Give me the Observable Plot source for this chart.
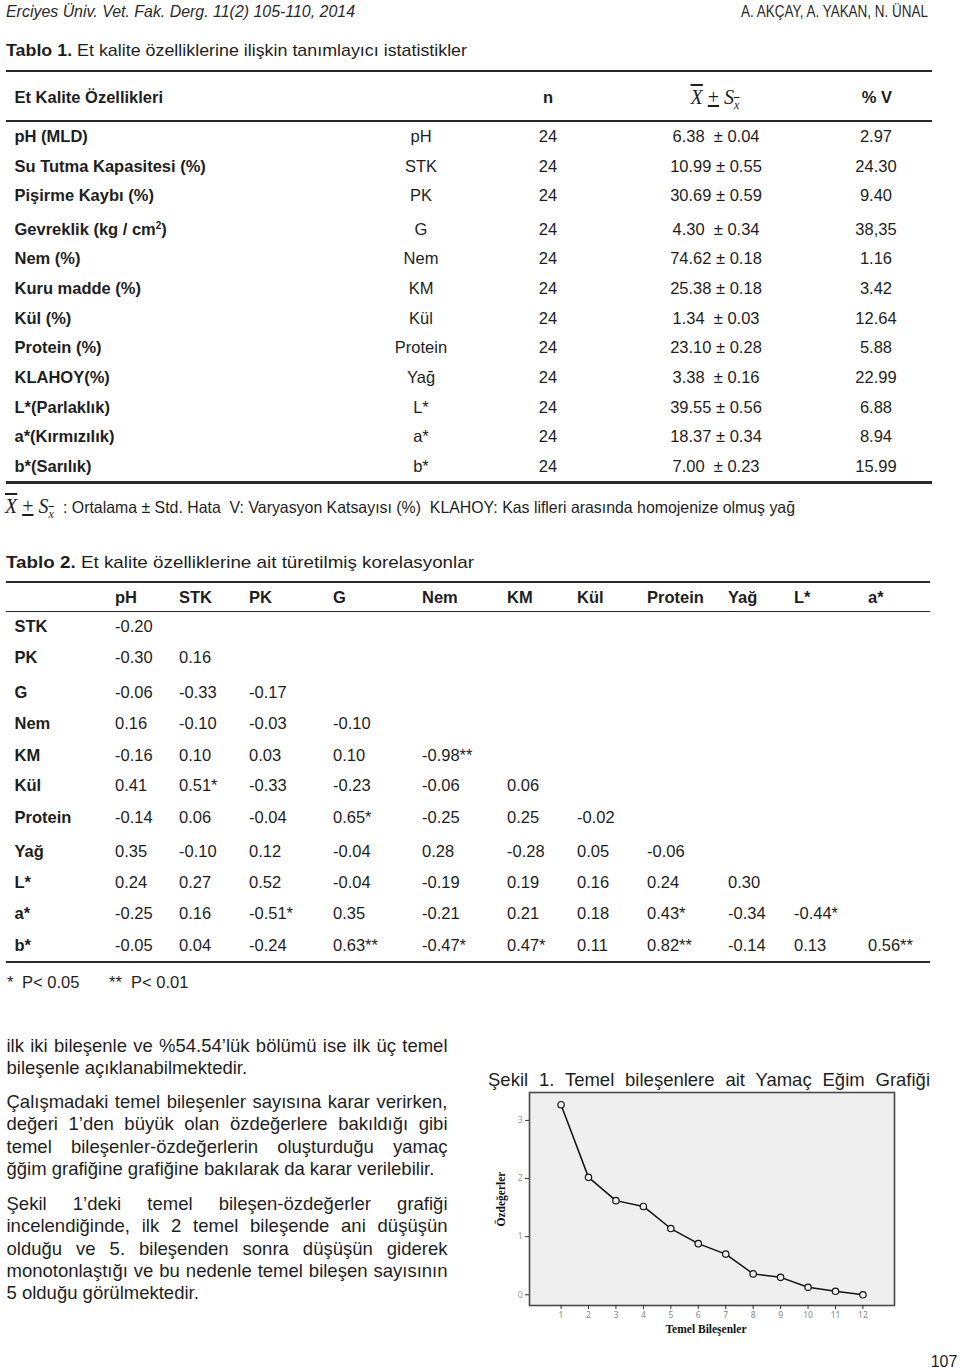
<!DOCTYPE html>
<html>
<head>
<meta charset="utf-8">
<script src="https://cdn.jsdelivr.net/npm/d3@7"></script>
<script src="https://cdn.jsdelivr.net/npm/@observablehq/plot@0.6"></script>
<style>
  html, body { margin: 0; padding: 0; background: #fff; }
  #page { position: relative; width: 960px; height: 1369px; overflow: hidden; background: #fff;
          font-family: "Liberation Sans", Arial, sans-serif; color: #1e1e1e; }
  .t { position: absolute; white-space: pre; }
  .rule { position: absolute; background: #2a2a2a; }
  .jline { position: absolute; white-space: normal; text-align: justify; text-align-last: justify;
           font-family: "Liberation Sans", Arial, sans-serif; font-size: 18.5px; color: #1e1e1e; }
  .jline.last { text-align-last: left; }
  #chart { position: absolute; left: 488px; top: 1088px; }
</style>
</head>
<body>
<div id="page"></div>
<script>
// ---------------- DATA ----------------
const headerLeft = "Erciyes Üniv. Vet. Fak. Derg. 11(2) 105-110, 2014";
const headerRight = "A. AKÇAY, A. YAKAN, N. ÜNAL";

const table1Title = ["Tablo 1.", " Et kalite özelliklerine ilişkin tanımlayıcı istatistikler"];
const table1Head = ["Et Kalite Özellikleri", "n", "% V"];
const t1Labels = ["pH (MLD)", "Su Tutma Kapasitesi (%)", "Pişirme Kaybı (%)", "Gevreklik (kg / cm²)",
  "Nem (%)", "Kuru madde (%)", "Kül (%)", "Protein (%)", "KLAHOY(%)", "L*(Parlaklık)",
  "a*(Kırmızılık)", "b*(Sarılık)"];
const t1Abbr = ["pH", "STK", "PK", "G", "Nem", "KM", "Kül", "Protein", "Yağ", "L*", "a*", "b*"];
const t1N = [24, 24, 24, 24, 24, 24, 24, 24, 24, 24, 24, 24];
const t1Mean = ["6.38 ", "10.99", "30.69", "4.30 ", "74.62", "25.38", "1.34 ", "23.10", "3.38 ", "39.55", "18.37", "7.00 "];
const t1SE = ["0.04", "0.55", "0.59", "0.34", "0.18", "0.18", "0.03", "0.28", "0.16", "0.56", "0.34", "0.23"];
const t1CV = ["2.97", "24.30", "9.40", "38,35", "1.16", "3.42", "12.64", "5.88", "22.99", "6.88", "8.94", "15.99"];
const t1Note = ": Ortalama ± Std. Hata  V: Varyasyon Katsayısı (%)  KLAHOY: Kas lifleri arasında homojenize olmuş yağ";

const table2Title = ["Tablo 2.", " Et kalite özelliklerine ait türetilmiş korelasyonlar"];
const t2Cols = ["pH", "STK", "PK", "G", "Nem", "KM", "Kül", "Protein", "Yağ", "L*", "a*"];
const t2RowNames = ["STK", "PK", "G", "Nem", "KM", "Kül", "Protein", "Yağ", "L*", "a*", "b*"];
const t2Values = [
  ["-0.20"],
  ["-0.30", "0.16"],
  ["-0.06", "-0.33", "-0.17"],
  ["0.16", "-0.10", "-0.03", "-0.10"],
  ["-0.16", "0.10", "0.03", "0.10", "-0.98**"],
  ["0.41", "0.51*", "-0.33", "-0.23", "-0.06", "0.06"],
  ["-0.14", "0.06", "-0.04", "0.65*", "-0.25", "0.25", "-0.02"],
  ["0.35", "-0.10", "0.12", "-0.04", "0.28", "-0.28", "0.05", "-0.06"],
  ["0.24", "0.27", "0.52", "-0.04", "-0.19", "0.19", "0.16", "0.24", "0.30"],
  ["-0.25", "0.16", "-0.51*", "0.35", "-0.21", "0.21", "0.18", "0.43*", "-0.34", "-0.44*"],
  ["-0.05", "0.04", "-0.24", "0.63**", "-0.47*", "0.47*", "0.11", "0.82**", "-0.14", "0.13", "0.56**"]
];
const t2Note = [["*", "P< 0.05"], ["**", "P< 0.01"]];

const bodyParagraphs = [
  ["ilk iki bileşenle ve %54.54’lük bölümü ise ilk üç temel", "bileşenle açıklanabilmektedir."],
  ["Çalışmadaki temel bileşenler sayısına karar verirken,", "değeri 1’den büyük olan özdeğerlere bakıldığı gibi",
   "temel bileşenler-özdeğerlerin oluşturduğu yamaç", "ğğim grafiğine grafiğine bakılarak da karar verilebilir."],
  ["Şekil 1’deki temel bileşen-özdeğerler grafiği", "incelendiğinde,  ilk 2 temel bileşende ani düşüşün",
   "olduğu ve 5. bileşenden sonra düşüşün giderek", "monotonlaştığı ve bu nedenle temel bileşen sayısının",
   "5 olduğu görülmektedir."]
];
const figureCaption = "Şekil 1. Temel bileşenlere ait Yamaç Eğim Grafiği";
const pageNumber = "107";

// Scree plot data
const components = [1, 2, 3, 4, 5, 6, 7, 8, 9, 10, 11, 12];
const eigenvalues = [3.27, 2.02, 1.62, 1.52, 1.14, 0.88, 0.70, 0.36, 0.30, 0.13, 0.06, 0.00];
const yTicks = [0, 1, 2, 3];
const xLabel = "Temel Bileşenler";
const yLabel = "Özdeğerler";

// ---------------- LAYOUT HELPERS ----------------
const page = document.getElementById("page");
const SANS = '"Liberation Sans", Arial, sans-serif';
const SERIF = '"Liberation Serif", "Times New Roman", serif';

function put(content, x, y, o = {}) {
  const size = o.size || 16.5;
  const L = o.lh || Math.round(size * 1.25);
  const d = document.createElement("div");
  d.className = "t";
  if (o.html) d.innerHTML = content; else d.textContent = content;
  Object.assign(d.style, {
    left: x + "px", top: (y - L / 2) + "px", fontSize: size + "px", lineHeight: L + "px",
    fontWeight: o.weight || "normal", fontFamily: o.family || SANS, fontStyle: o.style || "normal",
    color: o.color || "#1e1e1e"
  });
  page.appendChild(d);
  if (o.fit) {
    const w = d.getBoundingClientRect().width;
    d.style.transformOrigin = "left center";
    if (o.anchor === "end") d.style.left = (x - o.fit) + "px";
    d.style.transform = `scaleX(${o.fit / w})`;
  } else if (o.anchor === "middle") d.style.transform = "translateX(-50%)";
  else if (o.anchor === "end") d.style.transform = "translateX(-100%)";
  return d;
}
function rule(x1, x2, y, h) {
  const d = document.createElement("div");
  d.className = "rule";
  Object.assign(d.style, { left: x1 + "px", width: (x2 - x1) + "px", top: (y - h / 2) + "px", height: h + "px" });
  page.appendChild(d);
}
const formula = (sz) =>
  `<span style="font-family:${SERIF.replace(/"/g, "'")};font-style:italic;font-size:${sz}px">` +
  `<span style="text-decoration:overline">X</span> <span style="font-style:normal;text-decoration:underline">+</span> S` +
  `<span style="font-size:${Math.round(sz * 0.6)}px;position:relative;top:${Math.round(sz * 0.25)}px;line-height:0"><span style="text-decoration:overline">x</span></span></span>`;

// ---------------- HEADER ----------------
put(headerLeft, 6, 11, { size: 16.5, style: "italic", fit: 349, color: "#2a2a2a" });
put(headerRight, 928, 11, { size: 16.5, fit: 187, anchor: "end", color: "#2a2a2a" });

// ---------------- TABLE 1 ----------------
put(`<b>${table1Title[0]}</b>${table1Title[1]}`, 6, 50, { size: 17, html: true, fit: 461 });
rule(6, 932, 71, 2.2);
put(table1Head[0], 14.5, 97, { weight: "bold" });
put(table1Head[1], 548, 97, { weight: "bold", anchor: "middle" });
put(formula(20), 715, 97, { html: true, anchor: "middle", lh: 24 });
put(table1Head[2], 877, 97, { weight: "bold", anchor: "middle" });
rule(6, 932, 121, 1.6);
const t1Y = [136.5, 166, 195.7, 229.3, 258.7, 288.3, 318, 347.7, 377.3, 407, 436.7, 466];
t1Labels.forEach((lab, i) => {
  const y = t1Y[i];
  if (lab.includes("²")) put(lab.replace("²", "<span style='font-size:10px;line-height:0;position:relative;top:-6px'>2</span>"), 14.5, y, { weight: "bold", html: true });
  else put(lab, 14.5, y, { weight: "bold" });
  put(t1Abbr[i], 421, y, { anchor: "middle" });
  put(String(t1N[i]), 548, y, { anchor: "middle" });
  put(`${t1Mean[i]} ± ${t1SE[i]}`, 716, y, { anchor: "middle" });
  put(t1CV[i], 876, y, { anchor: "middle" });
});
rule(6, 932, 482.5, 2.2);
put(formula(20), 5, 506, { html: true, lh: 22 });
put(t1Note, 63, 507, { size: 16.5, fit: 732 });

// ---------------- TABLE 2 ----------------
put(`<b>${table2Title[0]}</b>${table2Title[1]}`, 6, 562, { size: 17, html: true, fit: 468 });
rule(6, 930, 582, 2);
const t2ColX = [115, 179, 249, 333, 422, 507, 577, 647, 728, 794, 868];
t2Cols.forEach((c, j) => put(c, t2ColX[j], 597, { weight: "bold" }));
rule(6, 930, 611.5, 1.8);
const t2Y = [626, 657.5, 692.3, 723.7, 755, 785.7, 817.3, 851.7, 882.3, 913.7, 945];
t2RowNames.forEach((r, i) => {
  put(r, 14.5, t2Y[i], { weight: "bold" });
  t2Values[i].forEach((v, j) => put(v, t2ColX[j], t2Y[i]));
});
rule(6, 930, 962, 2.2);
put(t2Note[0][0], 7, 982);
put(t2Note[0][1], 22, 982);
put(t2Note[1][0], 109, 982);
put(t2Note[1][1], 131, 982);

// ---------------- BODY TEXT ----------------
const paraStarts = [1046, 1102, 1204];
const lineGap = 22.3;
bodyParagraphs.forEach((lines, p) => {
  lines.forEach((ln, k) => {
    const d = document.createElement("div");
    d.className = "jline" + (k === lines.length - 1 ? " last" : "");
    d.textContent = ln;
    const L = 22;
    Object.assign(d.style, { left: "6.5px", width: "441px", top: (paraStarts[p] + k * lineGap - L / 2) + "px", lineHeight: L + "px" });
    page.appendChild(d);
  });
});

// figure caption
{
  const cap = document.createElement("div");
  cap.className = "jline";
  cap.textContent = figureCaption;
  Object.assign(cap.style, { left: "488px", top: "1068.5px", width: "442px", lineHeight: "22px", fontSize: "18.5px", textAlignLast: "justify" });
  page.appendChild(cap);
}
put(pageNumber, 944, 1362, { size: 16, anchor: "middle" });

// ---------------- SCREE PLOT ----------------
const scree = components.map((c, i) => ({ c, v: eigenvalues[i] }));
const chart = Plot.plot({
  width: 416,
  height: 250,
  marginLeft: 41,
  marginRight: 10,
  marginTop: 4,
  marginBottom: 33,
  style: { background: "transparent", overflow: "visible" },
  x: { domain: [-0.15, 13.15], label: null },
  y: { domain: [-0.184, 3.48], label: null },
  marks: [
    Plot.frame({ fill: "#efefef", stroke: "#4a4a4a", strokeWidth: 1.6 }),
    Plot.axisX({ ticks: components, tickSize: 4, tickFormat: () => "", color: "#333" }),
    Plot.axisX({ ticks: components, tickSize: 0, tickPadding: 6, fontSize: 8.5, color: "#888", tickFormat: d3.format("d") }),
    Plot.axisY({ ticks: yTicks, tickSize: 4, tickFormat: () => "", color: "#333" }),
    Plot.axisY({ ticks: yTicks, tickSize: 0, tickPadding: 7, fontSize: 8.5, color: "#999", tickFormat: d3.format("d") }),
    Plot.line(scree, { x: "c", y: "v", stroke: "#111", strokeWidth: 1.5 }),
    Plot.dot(scree, { x: "c", y: "v", r: 3.2, stroke: "#111", strokeWidth: 1.2, fill: "#efefef" }),
    Plot.text([xLabel], { frameAnchor: "bottom", dy: 24, dx: -6, lineAnchor: "middle", fontSize: 11.5,
      fontWeight: "bold", fontFamily: SERIF, fill: "#111" }),
    Plot.text([yLabel], { frameAnchor: "left", dx: -28, rotate: -90, lineAnchor: "middle", textAnchor: "middle",
      fontSize: 11.5, fontWeight: "bold", fontFamily: SERIF, fill: "#111" })
  ]
});
chart.id = "chart";
page.appendChild(chart);
</script>
</body>
</html>
